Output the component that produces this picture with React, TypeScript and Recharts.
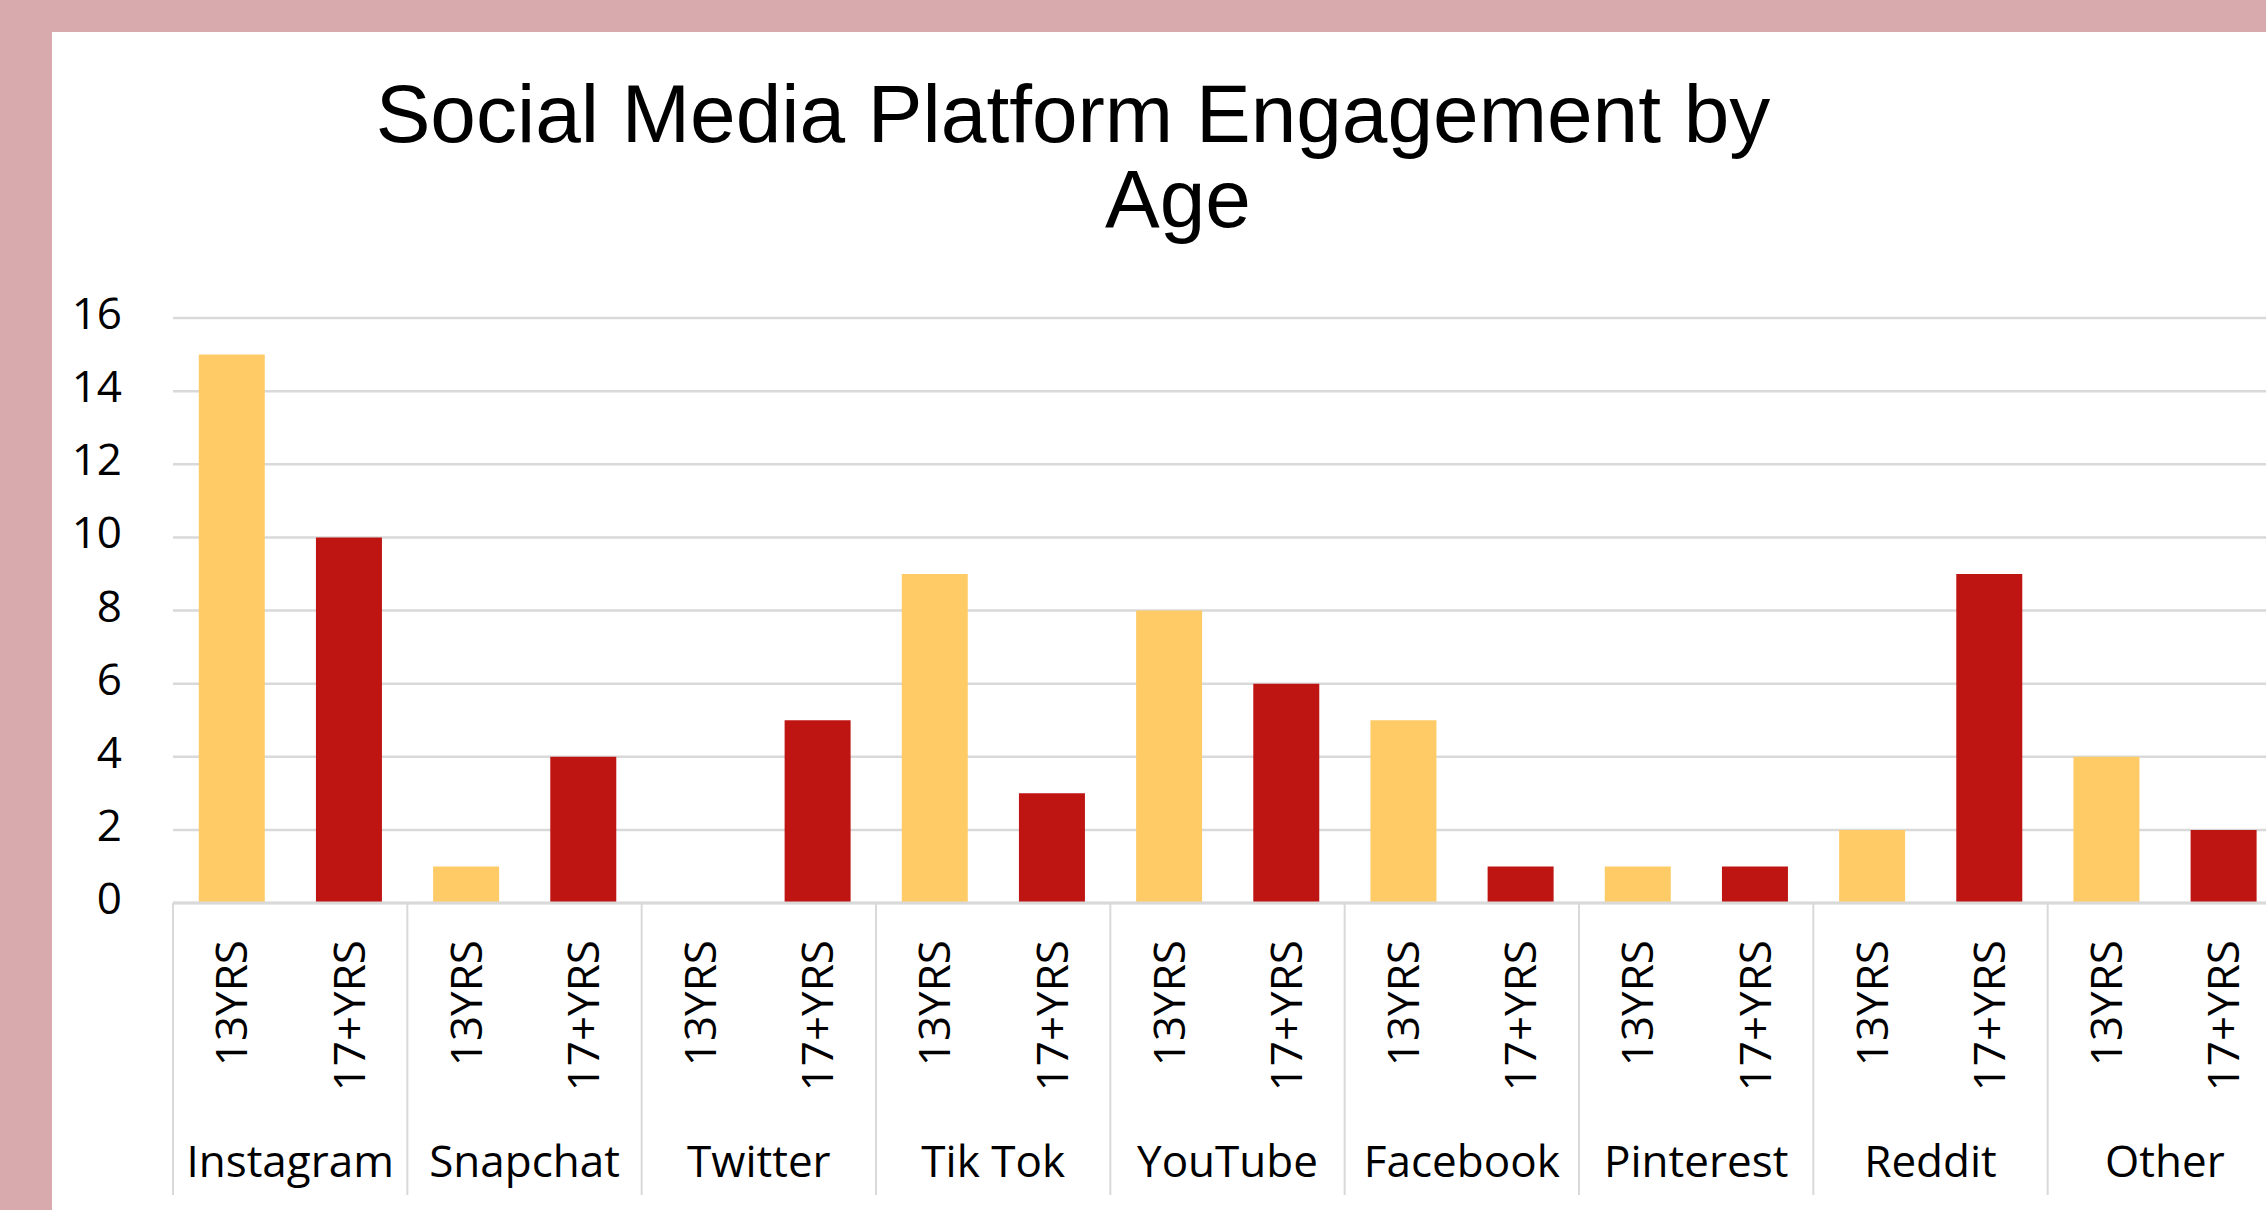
// Social media platform engagement by age: one bar per age group, grouped by
// platform on a two-level category axis.
import { BarChart, Bar, Cell, XAxis, YAxis, CartesianGrid } from "recharts";

const platforms = ["Instagram", "Snapchat", "Twitter", "Tik Tok", "YouTube", "Facebook", "Pinterest", "Reddit", "Other"];
const ageGroups = ["13YRS", "17+YRS"];
const age13 = [15, 1, 0, 9, 8, 5, 1, 2, 4];
const age17 = [10, 4, 5, 3, 6, 1, 1, 9, 2];
const yTicks = [0, 2, 4, 6, 8, 10, 12, 14, 16];
const titleLines = ["Social Media Platform Engagement by", "Age"];

const barColors = ["#FECB67", "#BE1512"];
const gridColor = "#D9D9D9";
const labelFont = "'Open Sans', 'Noto Sans', sans-serif";
const titleFont = "'Liberation Sans', Arial, sans-serif";

const rows = platforms.flatMap((platform, i) => [
  { platform, age: ageGroups[0], group: 0, value: age13[i] },
  { platform, age: ageGroups[1], group: 1, value: age17[i] },
]);
// boundaries between the platform groups, for the divider ticks
const dividers = platforms.map((_, i) => i).concat(platforms.length);
const platformIndex = (d: any) => platforms.indexOf(d.platform);

function AgeTick({ x, y, payload }: any) {
  return (
    <g transform={`translate(${x},${y + 36}) rotate(-90)`}>
      <text textAnchor="end" dy="0.36em" fontSize={44} fontFamily={labelFont} fill="#000">
        {payload.value}
      </text>
    </g>
  );
}

function PlatformTick({ x, y, payload }: any) {
  return (
    <text x={x} y={y + 73} textAnchor="middle" fontSize={44} fontFamily={labelFont} fill="#000">
      {payload.value}
    </text>
  );
}

function ValueTick({ x, y, payload }: any) {
  return (
    <text x={x} y={y} dy="0.25em" textAnchor="end" fontSize={44} fontFamily={labelFont} fill="#000">
      {payload.value}
    </text>
  );
}

export default function App() {
  return (
    <div style={{ position: "relative", width: 2266, height: 1210, background: "#D9AAAD", overflow: "hidden" }}>
      <style>{"body{margin:0}"}</style>
      <div
        style={{
          position: "absolute",
          left: 52,
          top: 32,
          width: 2214,
          height: 1178,
          background: "#fff",
          overflow: "hidden",
        }}
      >
        <svg width={2214} height={260} style={{ position: "absolute", left: 0, top: 0 }}>
          <text x={1021} y={110} textAnchor="middle" fontSize={82} fontFamily={titleFont} fill="#000">
            {titleLines[0]}
          </text>
          <text x={1126} y={195} textAnchor="middle" fontSize={82} fontFamily={titleFont} fill="#000">
            {titleLines[1]}
          </text>
        </svg>
        <div style={{ position: "absolute", left: 0, top: 0 }}>
          <BarChart
            width={2260}
            height={1178}
            data={rows}
            margin={{ top: 286, right: 30, bottom: 6, left: 0 }}
            barCategoryGap="22%"
          >
            <CartesianGrid xAxisId="axisB" vertical={false} stroke={gridColor} strokeWidth={2.5} />
            <XAxis
              xAxisId="axisA"
              type="number"
              dataKey={platformIndex}
              domain={[0, platforms.length]}
              allowDataOverflow
              ticks={dividers}
              interval={0}
              height={1}
              axisLine={{ stroke: gridColor, strokeWidth: 3 }}
              tickLine={{ stroke: gridColor, strokeWidth: 2 }}
              tickSize={292}
              tick={() => <g />}
            />
            <XAxis
              xAxisId="axisB"
              dataKey="age"
              interval={0}
              height={200}
              axisLine={false}
              tickLine={false}
              tickSize={0}
              tickMargin={0}
              tick={(p: any) => <AgeTick {...p} />}
            />
            <XAxis
              xAxisId="axisC"
              dataKey="platform"
              allowDuplicatedCategory={false}
              interval={0}
              height={100}
              axisLine={false}
              tickLine={false}
              tickSize={0}
              tickMargin={0}
              tick={(p: any) => <PlatformTick {...p} />}
            />
            <YAxis
              domain={[0, 16]}
              ticks={yTicks}
              interval={0}
              width={121}
              axisLine={false}
              tickLine={false}
              tickSize={0}
              tickMargin={51}
              tick={(p: any) => <ValueTick {...p} />}
            />
            <Bar xAxisId="axisB" dataKey="value" isAnimationActive={false}>
              {rows.map((r, i) => (
                <Cell key={i} fill={barColors[r.group]} />
              ))}
            </Bar>
          </BarChart>
        </div>
      </div>
    </div>
  );
}
